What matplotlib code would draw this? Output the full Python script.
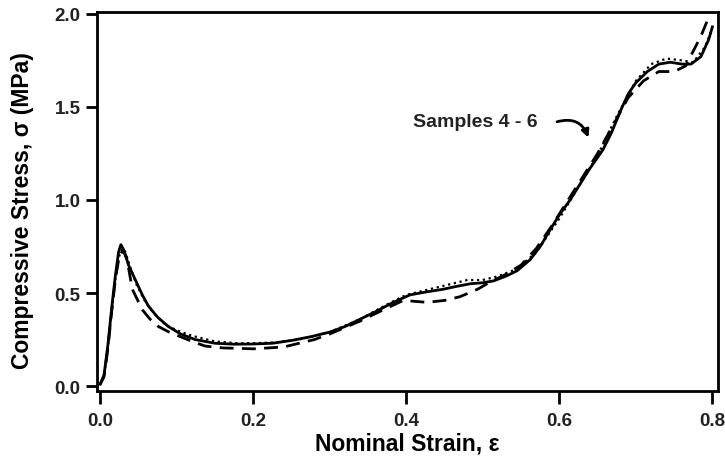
import matplotlib
matplotlib.use("Agg")
import matplotlib.pyplot as plt

plt.rcParams['font.family'] = ['Liberation Sans', 'DejaVu Sans']
plt.rcParams['font.weight'] = 'bold'

# sample curves
x_solid = [0.0, 0.005, 0.01, 0.015, 0.02, 0.024, 0.027, 0.031, 0.037, 0.046, 0.055, 0.063,
           0.075, 0.089, 0.105, 0.124, 0.15, 0.175, 0.2, 0.225, 0.25, 0.275, 0.3, 0.32,
           0.34, 0.36, 0.383, 0.405, 0.425, 0.448, 0.465, 0.484, 0.5, 0.514, 0.53, 0.545,
           0.562, 0.575, 0.588, 0.6, 0.614, 0.627, 0.64, 0.657, 0.668, 0.68, 0.69, 0.7,
           0.715, 0.73, 0.745, 0.76, 0.772, 0.785, 0.795, 0.8]
y_solid = [0.01, 0.06, 0.22, 0.42, 0.6, 0.72, 0.76, 0.73, 0.65, 0.57, 0.49, 0.43,
           0.37, 0.32, 0.28, 0.25, 0.23, 0.225, 0.226, 0.23, 0.245, 0.265, 0.29, 0.32,
           0.36, 0.4, 0.45, 0.49, 0.505, 0.52, 0.535, 0.55, 0.555, 0.565, 0.59, 0.62,
           0.68, 0.75, 0.84, 0.92, 1.0, 1.085, 1.17, 1.27, 1.36, 1.48, 1.57, 1.63,
           1.69, 1.73, 1.74, 1.73, 1.73, 1.77, 1.86, 1.93]

x_dot = [0.0, 0.005, 0.01, 0.015, 0.02, 0.025, 0.029, 0.033, 0.04, 0.048, 0.058, 0.07,
         0.085, 0.1, 0.12, 0.15, 0.18, 0.2, 0.23, 0.26, 0.3, 0.34, 0.38, 0.4, 0.43,
         0.46, 0.48, 0.5, 0.52, 0.545, 0.57, 0.6, 0.625, 0.65, 0.675, 0.7, 0.72, 0.74,
         0.76, 0.775, 0.79, 0.8]
y_dot = [0.01, 0.05, 0.2, 0.4, 0.58, 0.7, 0.74, 0.72, 0.63, 0.54, 0.46, 0.39,
         0.33, 0.3, 0.27, 0.24, 0.23, 0.23, 0.235, 0.25, 0.29, 0.36, 0.45, 0.49, 0.52,
         0.55, 0.57, 0.57, 0.59, 0.63, 0.72, 0.9, 1.07, 1.24, 1.45, 1.64, 1.73, 1.76,
         1.75, 1.74, 1.82, 1.92]

x_dash = [0.0, 0.005, 0.01, 0.015, 0.02, 0.025, 0.03, 0.035, 0.042, 0.055, 0.065, 0.076,
          0.09, 0.102, 0.12, 0.137, 0.16, 0.2, 0.24, 0.28, 0.3, 0.34, 0.37, 0.396,
          0.427, 0.45, 0.47, 0.493, 0.51, 0.53, 0.55, 0.57, 0.59, 0.61, 0.63, 0.65,
          0.67, 0.69, 0.71, 0.73, 0.75, 0.765, 0.775, 0.785, 0.795]
y_dash = [0.01, 0.05, 0.2, 0.4, 0.58, 0.7, 0.73, 0.68, 0.52, 0.41, 0.36, 0.32,
          0.29, 0.27, 0.24, 0.215, 0.205, 0.2, 0.21, 0.25, 0.28, 0.35, 0.41, 0.46,
          0.45, 0.46, 0.48, 0.52, 0.56, 0.6, 0.65, 0.74, 0.86, 0.99, 1.12, 1.25,
          1.4, 1.55, 1.64, 1.69, 1.69, 1.72, 1.8, 1.88, 1.98]

fig = plt.figure(figsize=(7.25, 4.64), dpi=100)
ax = fig.add_axes([0.134, 0.155, 0.856, 0.817])

ax.plot(x_solid, y_solid, color='black', lw=2.0, ls='-')
ax.plot(x_dot, y_dot, color='black', lw=1.6, ls=':')
ax.plot(x_dash, y_dash, color='black', lw=2.0, ls=(0, (5, 3)))

ax.set_xlim(-0.004, 0.807)
ax.set_ylim(-0.027, 2.01)
ax.set_xticks([0.0, 0.2, 0.4, 0.6, 0.8])
ax.set_yticks([0.0, 0.5, 1.0, 1.5, 2.0])
ax.set_xticklabels(['0.0', '0.2', '0.4', '0.6', '0.8'])
ax.set_yticklabels(['0.0', '0.5', '1.0', '1.5', '2.0'])

for s in ax.spines.values():
    s.set_linewidth(2)
ax.tick_params(direction='out', width=2, labelsize=13.5, labelcolor='#222222')
ax.tick_params(axis='x', length=9, pad=6)
ax.tick_params(axis='y', length=8, pad=4)

ax.set_xlabel('Nominal Strain, ε', fontsize=16.5, fontweight='bold', labelpad=2)
ax.set_ylabel('Compressive Stress, σ (MPa)', fontsize=16.5, fontweight='bold', labelpad=8)
ax.yaxis.set_label_coords(-0.102, 0.48)

ax.text(0.409, 1.42, 'Samples 4 - 6', fontsize=14, fontweight='bold', va='center',
        color='#222222')
ax.annotate('', xy=(0.638, 1.335), xytext=(0.597, 1.42),
            arrowprops=dict(arrowstyle='-|>', color='black', lw=2,
                            connectionstyle='arc3,rad=-0.45',
                            shrinkA=0, shrinkB=0, mutation_scale=11))

fig.savefig('out.png', dpi=100)
